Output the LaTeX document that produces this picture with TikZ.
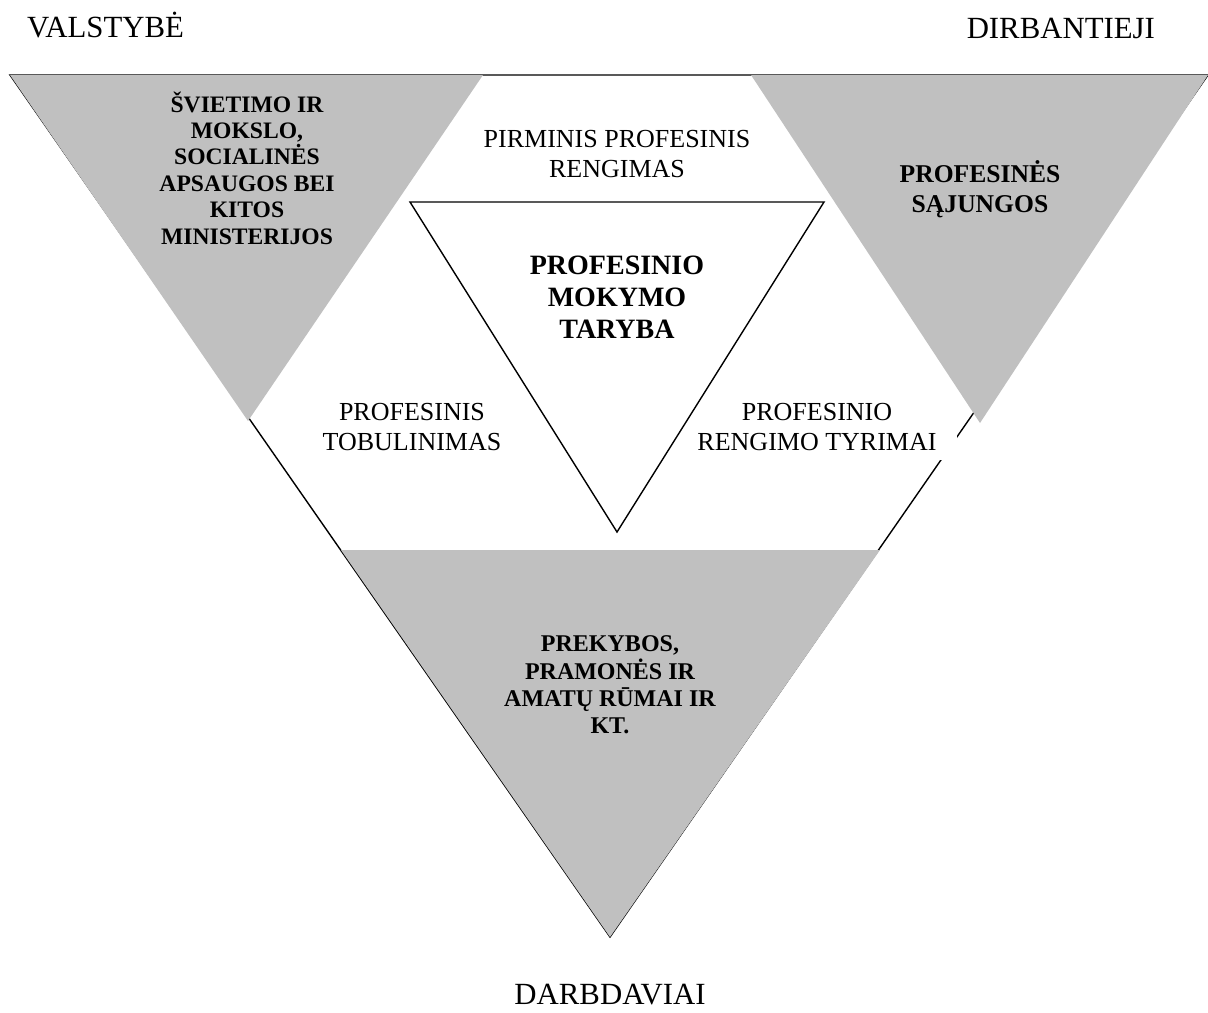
\documentclass[tikz,border=0pt]{standalone}
\usepackage{fontspec}
\setmainfont{Liberation Serif}[BoldFont={Liberation Serif Bold}]
\usetikzlibrary{positioning}
\definecolor{trigray}{RGB}{192,192,192}
\tikzset{gray side/.style={fill=trigray},
  side text/.style={align=center,font=\bfseries\fontsize{11.8}{13.2}\selectfont},
  area text/.style={align=center,font=\fontsize{13}{14.6}\selectfont},
  corner text/.style={font=\fontsize{15.4}{18}\selectfont},}

\begin{document}
\begin{tikzpicture}[x=0.5pt,y=-0.5pt]
          \useasboundingbox (0,0) rectangle (1208,1012);
          % outer frame
          \coordinate (tl) at (10,75);
          \coordinate (tr) at (1208,75);
          \coordinate (bt) at (610,937);
          % gray corners
          \coordinate (lm) at (483,75);
          \coordinate (lb) at (248,421);
          \coordinate (rm) at (751,75);
          \coordinate (rb) at (980,423);
          \coordinate (bl) at (341,550);
          \coordinate (br) at (880,550);
          % inner triangle
          \coordinate (il) at (410,202);
          \coordinate (ir) at (824,202);
          \coordinate (ib) at (617,532);

          \draw[line width=0.7pt] (tl) -- (tr) -- (bt) -- cycle;
          \path[gray side] (tl) -- (lm) -- (lb) -- cycle;
          \path[gray side] (rm) -- (tr) -- (rb) -- cycle;
          \path[gray side] (bl) -- (br) -- (bt) -- cycle;

          \node[side text] (min) at (247,168) {ŠVIETIMO IR\\MOKSLO,\\SOCIALINĖS\\APSAUGOS BEI\\KITOS\\MINISTERIJOS};
          \node[side text,font=\bfseries\fontsize{12.8}{15}\selectfont] (saj) at (980,189) {PROFESINĖS\\SĄJUNGOS};
          \node[side text,font=\bfseries\fontsize{12}{13.6}\selectfont] (rum) at (610,685) {PREKYBOS,\\PRAMONĖS IR\\AMATŲ RŪMAI IR\\KT.};

          \node[area text] (pir) at (617,154) {PIRMINIS PROFESINIS\\RENGIMAS};
          \node[area text] (tob) at (412,427) {PROFESINIS\\TOBULINIMAS};
          \node[area text,fill=white,inner xsep=10pt,inner ysep=5pt] (tyr) at (817,427) {PROFESINIO\\RENGIMO TYRIMAI};

          \draw[line width=0.7pt] (il) -- (ir) -- (ib) -- cycle;
          \node[side text,font=\bfseries\fontsize{14}{16}\selectfont] (tar) at (617,297) {PROFESINIO\\MOKYMO\\TARYBA};

          \node[corner text,anchor=base west] (val) at (20,37) {VALSTYBĖ};
          \node[corner text,anchor=base east] (dir) at (1162,38) {DIRBANTIEJI};
          \node[corner text,anchor=base] (dar) at (610,1004) {DARBDAVIAI};
        \end{tikzpicture}
\end{document}
